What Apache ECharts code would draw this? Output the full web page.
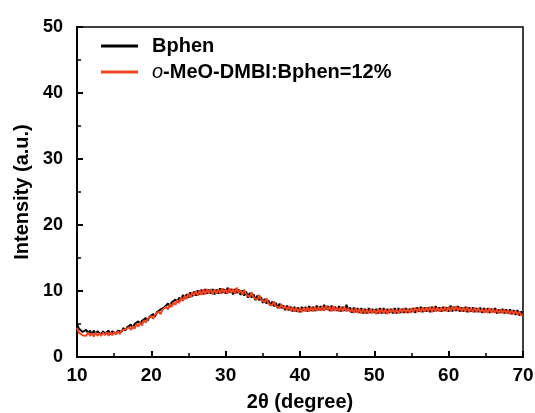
<!DOCTYPE html>
<html><head><meta charset="utf-8">
<script src="https://cdn.jsdelivr.net/npm/echarts@6/dist/echarts.min.js"></script>
<style>html,body{margin:0;padding:0;background:#fff}#c{width:535px;height:413px}</style>
</head><body><div id="c"></div>
<script>
// 2θ grid: from 10 to 70 degrees in 0.25 degree steps
var thetaStart = 10, thetaStep = 0.25;
var xTicks = [10, 20, 30, 40, 50, 60, 70];
var yTicks = [0, 10, 20, 30, 40, 50];
var seriesNames = ['Bphen', 'o-MeO-DMBI:Bphen=12%'];
var bphen = [
5.0,4.3,4.4,3.8, 3.5,4.1,3.6,4.0, 3.4,4.0,3.5,3.9, 4.1,3.4,3.9,3.5, 3.5,4.0,3.4,3.9,
4.1,3.5,4.0,3.7, 3.8,4.4,4.0,4.5, 4.3,4.9,4.4,5.0, 4.8,5.4,5.0,5.5, 5.3,5.9,5.5,6.1,
5.9,6.5,6.1,6.8, 6.6,7.2,6.9,7.5, 7.3,8.1,7.6,8.3, 8.0,8.7,8.3,9.0, 8.6,9.4,8.8,9.5,
9.0,9.8,9.2,9.9, 9.3,10.1,9.5,10.2, 9.5,10.3,9.6,10.2, 9.6,10.3,9.5,10.2, 9.6,10.4,9.7,10.3,
9.6,10.5,9.8,10.3, 9.5,10.3,9.7,10.2, 9.4,10.1,9.3,9.9, 9.0,9.7,9.0,9.5, 8.6,9.3,8.6,9.1,
8.2,8.8,8.1,8.6, 7.8,8.4,7.7,8.2, 7.4,8.1,7.4,7.8, 7.1,7.8,7.1,7.6, 6.9,7.6,6.9,7.5,
6.8,7.6,7.0,7.6, 6.9,7.7,7.0,7.6, 7.0,7.8,7.1,7.7, 7.1,7.9,7.2,7.7, 7.0,7.8,7.1,7.6,
7.0,7.7,6.9,7.6, 7.0,7.9,7.0,7.5, 6.7,7.5,6.8,7.4, 6.7,7.4,6.6,7.3, 6.6,7.4,6.7,7.3,
6.7,7.3,6.6,7.4, 6.6,7.4,6.6,7.3, 6.7,7.3,6.6,7.4, 6.6,7.4,6.7,7.3, 6.7,7.4,6.7,7.3,
6.8,7.4,6.7,7.5, 6.9,7.6,6.8,7.5, 6.9,7.5,6.8,7.6, 6.9,7.7,7.0,7.5, 6.9,7.6,7.0,7.5,
6.9,7.8,6.9,7.6, 7.0,7.7,6.9,7.5, 6.9,7.6,6.8,7.5, 6.9,7.5,6.8,7.4, 6.8,7.5,6.7,7.4,
6.8,7.4,6.7,7.3, 6.8,7.4,6.6,7.2, 6.7,7.3,6.6,7.2, 6.6,7.2,6.5,7.1, 6.4,7.1,6.3,6.9,
6.3
];
var doped = [
4.4,3.7,3.9,3.3, 3.6,3.2,3.7,3.2, 3.6,3.1,3.7,3.2, 3.6,3.2,3.7,3.3, 3.7,3.2,3.8,3.3,
3.8,3.4,3.9,3.5, 4.0,3.7,4.2,3.9, 4.5,4.1,4.7,4.3, 5.0,4.6,5.2,4.8, 5.6,5.2,5.8,5.5,
6.2,5.8,6.4,6.2, 6.9,6.5,7.2,6.9, 7.6,7.2,8.0,7.6, 8.3,7.9,8.6,8.2, 9.0,8.5,9.3,8.8,
9.6,9.0,9.8,9.3, 10.0,9.3,10.1,9.4, 10.2,9.5,10.3,9.6, 10.3,9.5,10.2,9.6, 10.3,9.6,10.4,9.7,
10.2,9.6,10.4,9.7, 10.3,9.6,10.5,9.7, 10.1,9.4,10.2,9.4, 9.7,9.1,9.8,9.0, 9.3,8.7,9.4,8.6,
8.8,8.3,8.9,8.1, 8.4,7.8,8.4,7.7, 8.0,7.4,8.0,7.3, 7.7,7.1,7.7,7.0, 7.5,6.9,7.5,6.8,
7.4,6.8,7.5,6.9, 7.5,6.9,7.6,6.9, 7.6,7.0,7.6,7.0, 7.7,7.0,7.8,7.1, 7.6,6.9,7.7,7.0,
7.5,6.9,7.6,6.9, 7.6,6.9,7.4,6.8, 7.3,6.7,7.4,6.7, 7.3,6.6,7.3,6.6, 7.2,6.6,7.3,6.6,
7.2,6.5,7.3,6.6, 7.3,6.6,7.2,6.5, 7.3,6.7,7.3,6.6, 7.2,6.6,7.3,6.7, 7.4,6.7,7.3,6.7,
7.4,6.8,7.5,6.8, 7.5,6.8,7.5,6.9, 7.5,6.9,7.6,6.8, 7.6,6.9,7.5,6.9, 7.5,6.9,7.6,6.9,
7.6,6.9,7.7,7.0, 7.7,7.0,7.6,6.9, 7.5,6.9,7.6,6.8, 7.4,6.8,7.5,6.8, 7.4,6.8,7.3,6.7,
7.3,6.7,7.4,6.7, 7.3,6.7,7.2,6.6, 7.2,6.6,7.2,6.6, 7.1,6.5,7.1,6.5, 7.0,6.4,6.9,6.3,
6.5
];

function pairs(arr){ return arr.map(function(v,i){ return [thetaStart + thetaStep*i, v]; }); }

var font = 'Liberation Sans, Arial, sans-serif';
var chart = echarts.init(document.getElementById('c'), null, {renderer:'canvas'});
var axisCommon = {
  axisLine:{show:true, onZero:false, lineStyle:{color:'#000', width:2}},
  axisTick:{show:true, inside:true, length:6, lineStyle:{color:'#000', width:2}},
  minorTick:{show:true, splitNumber:2, length:4, lineStyle:{color:'#000', width:1.5}},
  splitLine:{show:false},
  nameTextStyle:{color:'#000', fontFamily:font, fontWeight:'bold', fontSize:20}
};
chart.setOption({
  animation:false,
  backgroundColor:'#fff',
  grid:{left:77, right:12, top:27, bottom:56, outerBoundsMode:'none', containLabel:false,
    show:true, borderColor:'#000', borderWidth:1.5, backgroundColor:'transparent'},
  legend:{
    orient:'vertical', left:101, top:36, padding:0, itemWidth:37, itemHeight:3, itemGap:6,
    icon:'rect',
    data:seriesNames,
    formatter:function(n){ return n.indexOf('o-')===0 ? '{i|o}' + n.slice(1) : n; },
    textStyle:{color:'#000', fontFamily:font, fontWeight:'bold', fontSize:20, padding:[0,0,0,9],
      rich:{i:{fontStyle:'italic', fontWeight:'normal', fontFamily:font, fontSize:20, color:'#000'}}}
  },
  xAxis:Object.assign({}, axisCommon, {
    type:'value', min:xTicks[0], max:xTicks[xTicks.length-1], interval:10,
    name:'2θ (degree)', nameLocation:'middle', nameGap:35,
    axisLabel:{color:'#000', fontFamily:font, fontWeight:'bold', fontSize:19, margin:9}
  }),
  yAxis:Object.assign({}, axisCommon, {
    type:'value', min:yTicks[0], max:yTicks[yTicks.length-1], interval:10,
    name:'Intensity (a.u.)', nameLocation:'middle', nameGap:43,
    axisLabel:{color:'#000', fontFamily:font, fontWeight:'bold', fontSize:18, margin:14}
  }),
  series:[
    {name:seriesNames[0], type:'line', symbol:'none', data:pairs(bphen), lineStyle:{color:'#000', width:2}, itemStyle:{color:'#000'}, z:2},
    {name:seriesNames[1], type:'line', symbol:'none', data:pairs(doped), lineStyle:{color:'#F04523', width:2}, itemStyle:{color:'#F04523'}, z:3}
  ]
});
</script>
</body></html>
